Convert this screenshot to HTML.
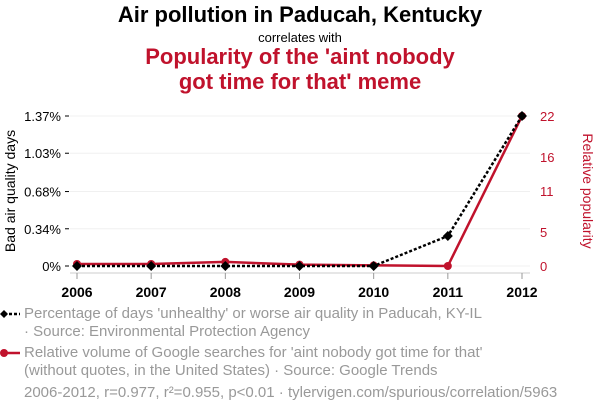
<!DOCTYPE html>
<html><head><meta charset="utf-8"><style>
body{margin:0;background:#fff;font-family:"Liberation Sans",sans-serif;}
#wrap{position:relative;width:600px;height:414px;overflow:hidden}
.t{position:absolute;left:0;width:600px;text-align:center}
.leg{position:absolute;left:24px;font-size:15px;color:#999;line-height:18px;white-space:nowrap}
</style></head><body><div id="wrap">
<div class="t" style="top:2px;font-size:22px;font-weight:bold;color:#000">Air pollution in Paducah, Kentucky</div>
<div class="t" style="top:30px;font-size:13px;color:#000">correlates with</div>
<div class="t" style="top:44px;font-size:22px;font-weight:bold;color:#c0122c;line-height:25px">Popularity of the 'aint nobody<br>got time for that' meme</div>
<svg id="svg" width="600" height="414" style="position:absolute;left:0;top:0"></svg>
<div class="leg" style="top:305px">Percentage of days 'unhealthy' or worse air quality in Paducah, KY-IL<br>· Source: Environmental Protection Agency</div>
<div class="leg" style="top:344px">Relative volume of Google searches for 'aint nobody got time for that'<br>(without quotes, in the United States) · Source: Google Trends</div>
<div class="leg" style="top:384px">2006-2012, r=0.977, r²=0.955, p&lt;0.01 · tylervigen.com/spurious/correlation/5963</div>
</div>
<script>
const years=[2006,2007,2008,2009,2010,2011,2012];
const pollution=[0,0,0,0,0,0.274,1.37];
const popularity=[0.3,0.3,0.6,0.2,0.1,0,22];
const leftTicks=[0,0.34,0.68,1.03,1.37];
const leftLabels=["0%","0.34%","0.68%","1.03%","1.37%"];
const rightTicks=[0,5,11,16,22];
const NS="http://www.w3.org/2000/svg";
const svg=document.getElementById('svg');
const x0=77,x1=522,yb=266,yt=116;
const xs=i=>x0+(x1-x0)*(years[i]-years[0])/(years[years.length-1]-years[0]);
const yl=v=>yb-(yb-yt)*v/1.37;
const yr=v=>yb-(yb-yt)*v/22;
function el(t,a,p){const e=document.createElementNS(NS,t);for(const k in a)e.setAttribute(k,a[k]);(p||svg).appendChild(e);return e;}
leftTicks.forEach((v,i)=>{
 const g=el('line',{x1:70,x2:530,y1:yl(v),y2:yl(v),stroke:'#f0f0f0'});
 
 
 const t=el('text',{x:61,y:yl(v)+5,'text-anchor':'end','font-size':13,fill:'#000'});t.textContent=leftLabels[i];
 
 
 el('line',{x1:65,x2:69,y1:yl(v),y2:yl(v),stroke:'#000'});
});
rightTicks.forEach(v=>{
 const t=el('text',{x:540,y:yr(v)+5,'font-size':13,fill:'#c0122c'});t.textContent=v;
 
 
});
el('line',{x1:70,x2:530,y1:273,y2:273,stroke:'#ccc'});
years.forEach((y,i)=>{
 el('line',{x1:xs(i),x2:xs(i),y1:273,y2:279,stroke:'#999'});
 const t=el('text',{x:xs(i),y:297,'text-anchor':'middle','font-size':14,'font-weight':'bold',fill:'#000'});t.textContent=y;
 
 
});
let a=el('text',{transform:'translate(15,191) rotate(-90)','text-anchor':'middle','font-size':14,fill:'#000'});a.textContent='Bad air quality days';


a=el('text',{transform:'translate(583,191) rotate(90)','text-anchor':'middle','font-size':14,fill:'#c0122c'});a.textContent='Relative popularity';


const rl=el('polyline',{points:popularity.map((v,i)=>xs(i)+','+yr(v)).join(' '),fill:'none',stroke:'#c0122c','stroke-width':2.5});


popularity.forEach((v,i)=>{const c=el('circle',{cx:xs(i),cy:yr(v),r:4,fill:'#c0122c'});
 
 });
const bl=el('polyline',{points:pollution.map((v,i)=>xs(i)+','+yl(v)).join(' '),fill:'none',stroke:'#000','stroke-width':2.5,'stroke-dasharray':'3,2'});


pollution.forEach((v,i)=>{const x=xs(i),y=yl(v);const d=el('polygon',{points:`${x},${y-5} ${x+5},${y} ${x},${y+5} ${x-5},${y}`,fill:'#000'});
 
 });
el('line',{x1:4,x2:20,y1:314,y2:314,stroke:'#000','stroke-width':2.5,'stroke-dasharray':'3,2'});
el('polygon',{points:'4,310 8,314 4,318 0,314',fill:'#000'});
el('line',{x1:4,x2:20,y1:353,y2:353,stroke:'#c0122c','stroke-width':2.5});
el('circle',{cx:4,cy:353,r:4,fill:'#c0122c'});
</script></body></html>
